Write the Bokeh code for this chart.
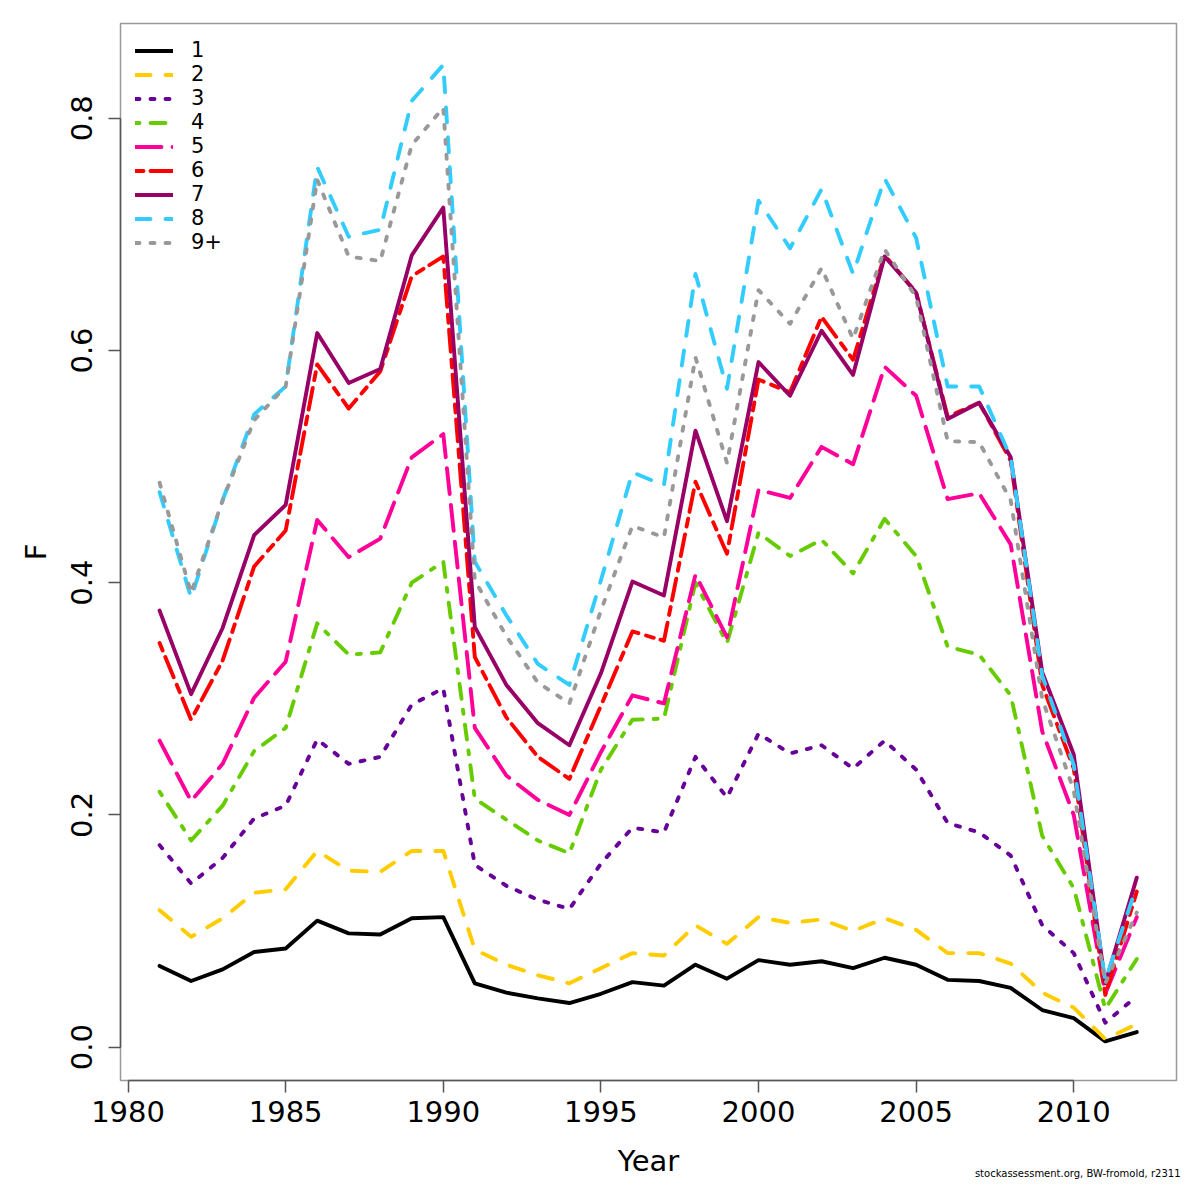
from bokeh.plotting import figure
from bokeh.models import FixedTicker, Range1d, Legend, LegendItem, Title, PrintfTickFormatter
from bokeh.embed import file_html
from bokeh.resources import INLINE

years = list(range(1981, 2013))

age1 = [0.070, 0.057, 0.067, 0.082, 0.085, 0.109, 0.098, 0.097, 0.111, 0.112, 0.055, 0.047, 0.042, 0.038, 0.046, 0.056,
        0.053, 0.071, 0.059, 0.075, 0.071, 0.074, 0.068, 0.077, 0.071, 0.058, 0.057, 0.051, 0.032, 0.025, 0.005, 0.013]
age2 = [0.118, 0.095, 0.111, 0.133, 0.136, 0.169, 0.152, 0.151, 0.169, 0.169, 0.084, 0.071, 0.062, 0.055, 0.068, 0.081,
        0.079, 0.105, 0.089, 0.112, 0.107, 0.110, 0.100, 0.111, 0.101, 0.081, 0.081, 0.072, 0.047, 0.034, 0.007, 0.020]
age3 = [0.174, 0.141, 0.163, 0.197, 0.208, 0.265, 0.244, 0.250, 0.295, 0.309, 0.157, 0.139, 0.127, 0.119, 0.158, 0.189,
        0.185, 0.250, 0.215, 0.270, 0.253, 0.260, 0.240, 0.264, 0.239, 0.193, 0.185, 0.165, 0.105, 0.081, 0.021, 0.044]
age4 = [0.220, 0.178, 0.208, 0.255, 0.275, 0.365, 0.338, 0.340, 0.400, 0.418, 0.214, 0.196, 0.178, 0.167, 0.239, 0.282,
        0.283, 0.400, 0.348, 0.443, 0.423, 0.437, 0.408, 0.455, 0.423, 0.345, 0.338, 0.303, 0.182, 0.137, 0.033, 0.076]
age5 = [0.264, 0.212, 0.244, 0.301, 0.332, 0.454, 0.422, 0.438, 0.508, 0.528, 0.275, 0.234, 0.213, 0.200, 0.254, 0.303,
        0.296, 0.407, 0.353, 0.480, 0.473, 0.517, 0.502, 0.586, 0.561, 0.472, 0.477, 0.433, 0.272, 0.200, 0.046, 0.112]
age6 = [0.348, 0.282, 0.333, 0.414, 0.445, 0.588, 0.550, 0.582, 0.664, 0.681, 0.336, 0.284, 0.250, 0.231, 0.294, 0.358,
        0.350, 0.487, 0.425, 0.575, 0.564, 0.629, 0.592, 0.682, 0.650, 0.543, 0.555, 0.505, 0.312, 0.240, 0.045, 0.134]
age7 = [0.376, 0.304, 0.361, 0.441, 0.467, 0.615, 0.572, 0.584, 0.682, 0.723, 0.362, 0.312, 0.279, 0.260, 0.322, 0.401,
        0.389, 0.531, 0.453, 0.590, 0.561, 0.617, 0.579, 0.681, 0.650, 0.541, 0.555, 0.508, 0.323, 0.252, 0.055, 0.146]
age8 = [0.478, 0.387, 0.471, 0.545, 0.569, 0.758, 0.698, 0.704, 0.815, 0.846, 0.418, 0.372, 0.330, 0.312, 0.402, 0.495,
        0.484, 0.666, 0.567, 0.729, 0.688, 0.739, 0.666, 0.748, 0.697, 0.569, 0.569, 0.508, 0.320, 0.243, 0.057, 0.139]
age9 = [0.486, 0.391, 0.471, 0.540, 0.569, 0.747, 0.681, 0.677, 0.777, 0.809, 0.402, 0.354, 0.314, 0.296, 0.376, 0.449,
        0.439, 0.594, 0.503, 0.652, 0.623, 0.671, 0.610, 0.687, 0.646, 0.522, 0.521, 0.471, 0.300, 0.221, 0.055, 0.116]

labels = ["1", "2", "3", "4", "5", "6", "7", "8", "9+"]
series = [age1, age2, age3, age4, age5, age6, age7, age8, age9]
colors = ["#000000", "#FFCC00", "#660099", "#66CC00", "#FF0099", "#FF0000", "#990066", "#33CCFF", "#999999"]
dashes = ["solid", "15 15", "4 11", "4 11 15 11", "26 11", "8 7 22 8", "solid", "15 15", "4 11"]

x_ticks = [1980, 1985, 1990, 1995, 2000, 2005, 2010]
y_ticks = [0.0, 0.2, 0.4, 0.6, 0.8]
footnote = "stockassessment.org, BW-fromold, r2311"

FONT = "DejaVu Sans"

p = figure(width=1184, height=1184, output_backend="svg", toolbar_location=None, title=None,
           x_range=Range1d(1979.76, 2013.26), y_range=Range1d(-0.0287, 0.8816),
           min_border_left=120, min_border_right=8, min_border_top=23, min_border_bottom=104)

p.background_fill_color = "white"
p.border_fill_color = "white"
p.outline_line_color = "#999999"
p.outline_line_width = 1.5
p.xgrid.grid_line_color = None
p.ygrid.grid_line_color = None

items = []
for lab, ys, col, d in zip(labels, series, colors, dashes):
    r = p.line(years, ys, line_color=col, line_width=3.9, line_dash=d,
               line_cap="round", line_join="round")
    items.append(LegendItem(label=lab, renderers=[r]))

for ax in (p.xaxis[0], p.yaxis[0]):
    ax.axis_line_color = "#555555"
    ax.axis_line_width = 1.5
    ax.major_tick_line_color = "#555555"
    ax.major_tick_line_width = 1.5
    ax.major_tick_out = 12
    ax.major_tick_in = 0
    ax.minor_tick_line_color = None
    ax.major_label_text_font = FONT
    ax.major_label_text_font_size = "29px"
    ax.major_label_text_color = "black"
    ax.axis_label_text_font = FONT
    ax.axis_label_text_font_size = "29px"
    ax.axis_label_text_font_style = "normal"
    ax.axis_label_text_color = "black"

p.xaxis[0].ticker = FixedTicker(ticks=x_ticks)
p.xaxis[0].bounds = (1980, 2010)
p.xaxis[0].axis_label = "Year"
p.xaxis[0].major_label_standoff = 8
p.xaxis[0].axis_label_standoff = 19

p.yaxis[0].ticker = FixedTicker(ticks=y_ticks)
p.yaxis[0].bounds = (0.0, 0.8)
p.yaxis[0].formatter = PrintfTickFormatter(format="%.1f")
p.yaxis[0].major_label_orientation = "vertical"
p.yaxis[0].axis_label = "F"
p.yaxis[0].major_label_standoff = 16
p.yaxis[0].axis_label_standoff = 16

legend = Legend(items=items, location="top_left", border_line_color=None, background_fill_alpha=0,
                label_text_font=FONT, label_text_font_size="21px", label_text_color="black",
                glyph_width=38, glyph_height=21,
                label_height=21, spacing=0, padding=10, margin=15, label_standoff=18)
p.add_layout(legend)

p.add_layout(Title(text=footnote, align="right", vertical_align="top", text_font=FONT,
                   text_font_size="10px", text_font_style="normal", text_color="black",
                   standoff=-26, offset=-4), "below")

open("out.html", "w").write(file_html(p, INLINE))
